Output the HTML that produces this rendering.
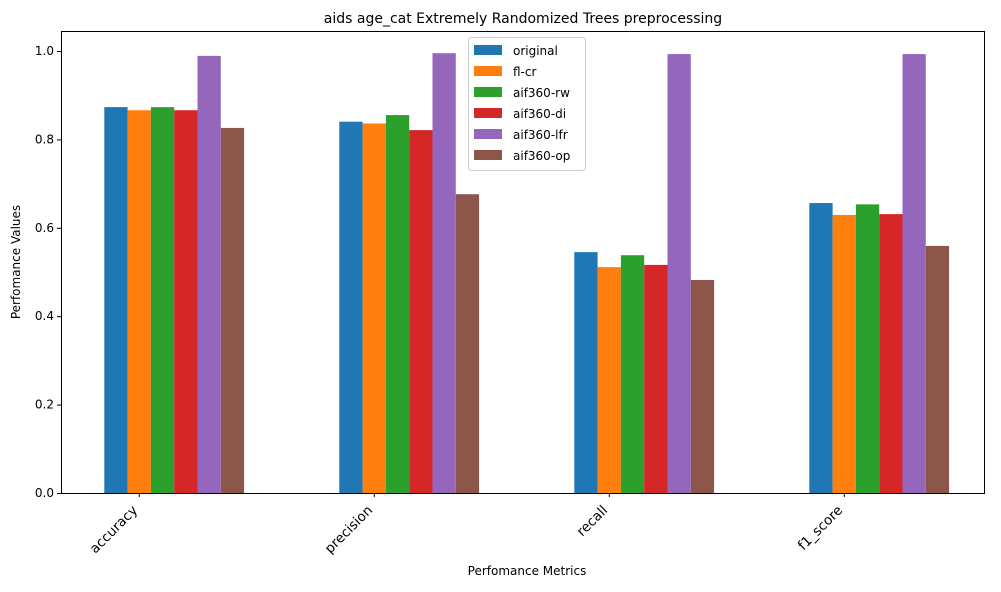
<!DOCTYPE html>
<html><head><meta charset="utf-8"><style>
body{margin:0;background:#fff;font-family:"Liberation Sans","DejaVu Sans",sans-serif;}
</style></head><body>
<svg id="chart" width="1001" height="587" xmlns="http://www.w3.org/2000/svg" font-family="'DejaVu Sans','Liberation Sans',sans-serif">
<rect width="1001" height="587" fill="#fff"/>
<text x="523" y="23" text-anchor="middle" font-size="14">aids age_cat Extremely Randomized Trees preprocessing</text>
<g id="bars"></g>
<g id="yaxis"></g>
<g id="xaxis"></g>
<rect x="61.5" y="31.5" width="923" height="462" fill="none" stroke="#000" stroke-width="1"/>
<text x="527" y="575" text-anchor="middle" font-size="12">Perfomance Metrics</text>
<text transform="translate(20,262) rotate(-90)" text-anchor="middle" font-size="12">Perfomance Values</text>
<g id="legend"></g>
</svg>
<script>
const categories=["accuracy","precision","recall","f1_score"];
const seriesNames=["original","fl-cr","aif360-rw","aif360-di","aif360-lfr","aif360-op"];
const colors=["#1f77b4","#ff7f0e","#2ca02c","#d62728","#9467bd","#8c564b"];
const original=[0.873,0.840,0.545,0.656];
const flcr=[0.866,0.836,0.511,0.629];
const rw=[0.873,0.855,0.538,0.653];
const di=[0.866,0.821,0.516,0.631];
const lfr=[0.989,0.995,0.993,0.993];
const op=[0.826,0.676,0.482,0.559];
const yTicks=[0,0.2,0.4,0.6,0.8,1.0];
const yTickLabels=["0.0","0.2","0.4","0.6","0.8","1.0"];
const series=[original,flcr,rw,di,lfr,op];
const NS="http://www.w3.org/2000/svg";
function y(v){return 493-v*442;}
function xc(i){return 139.3+235*i;}
const bw=23.3;
const bars=document.getElementById('bars');
series.forEach((s,k)=>{s.forEach((v,i)=>{
 const r=document.createElementNS(NS,'rect');
 
 
 r.setAttribute('x',xc(i)-35+k*bw);r.setAttribute('width',bw);
 r.setAttribute('y',y(v));r.setAttribute('height',493-y(v));
 r.setAttribute('fill',colors[k]);bars.appendChild(r);});});
const ya=document.getElementById('yaxis');
yTicks.forEach((t,i)=>{
 const l=document.createElementNS(NS,'line');
 
 
 l.setAttribute('x1',57);l.setAttribute('x2',61);l.setAttribute('y1',y(t)+0.5);l.setAttribute('y2',y(t)+0.5);l.setAttribute('stroke','#000');ya.appendChild(l);
 const tx=document.createElementNS(NS,'text');
 
 
 tx.setAttribute('x',54);tx.setAttribute('y',y(t)+4);tx.setAttribute('text-anchor','end');tx.setAttribute('font-size','12');tx.textContent=yTickLabels[i];ya.appendChild(tx);});
const xa=document.getElementById('xaxis');
categories.forEach((c,i)=>{
 const l=document.createElementNS(NS,'line');
 
 
 l.setAttribute('x1',xc(i));l.setAttribute('x2',xc(i));l.setAttribute('y1',493);l.setAttribute('y2',497);l.setAttribute('stroke','#000');xa.appendChild(l);
 const tx=document.createElementNS(NS,'text');
 
 
 tx.setAttribute('transform','translate('+(xc(i)-1)+',511) rotate(-45)');tx.setAttribute('text-anchor','end');tx.setAttribute('font-size','13.5');tx.textContent=c;xa.appendChild(tx);});
const lg=document.getElementById('legend');
const box=document.createElementNS(NS,'rect');


box.setAttribute('x',468.5);box.setAttribute('y',37.5);box.setAttribute('width',117);box.setAttribute('height',133);box.setAttribute('rx',3);box.setAttribute('fill','#fff');box.setAttribute('fill-opacity','0.8');box.setAttribute('stroke','#ccc');lg.appendChild(box);
seriesNames.forEach((n,k)=>{
 const r=document.createElementNS(NS,'rect');
 
 
 r.setAttribute('x',474);r.setAttribute('y',45+k*21);r.setAttribute('width',28);r.setAttribute('height',10);r.setAttribute('fill',colors[k]);lg.appendChild(r);
 const t=document.createElementNS(NS,'text');
 
 
 t.setAttribute('x',513);t.setAttribute('y',55+k*21);t.setAttribute('font-size','12');t.textContent=n;lg.appendChild(t);});
</script>
</body></html>
